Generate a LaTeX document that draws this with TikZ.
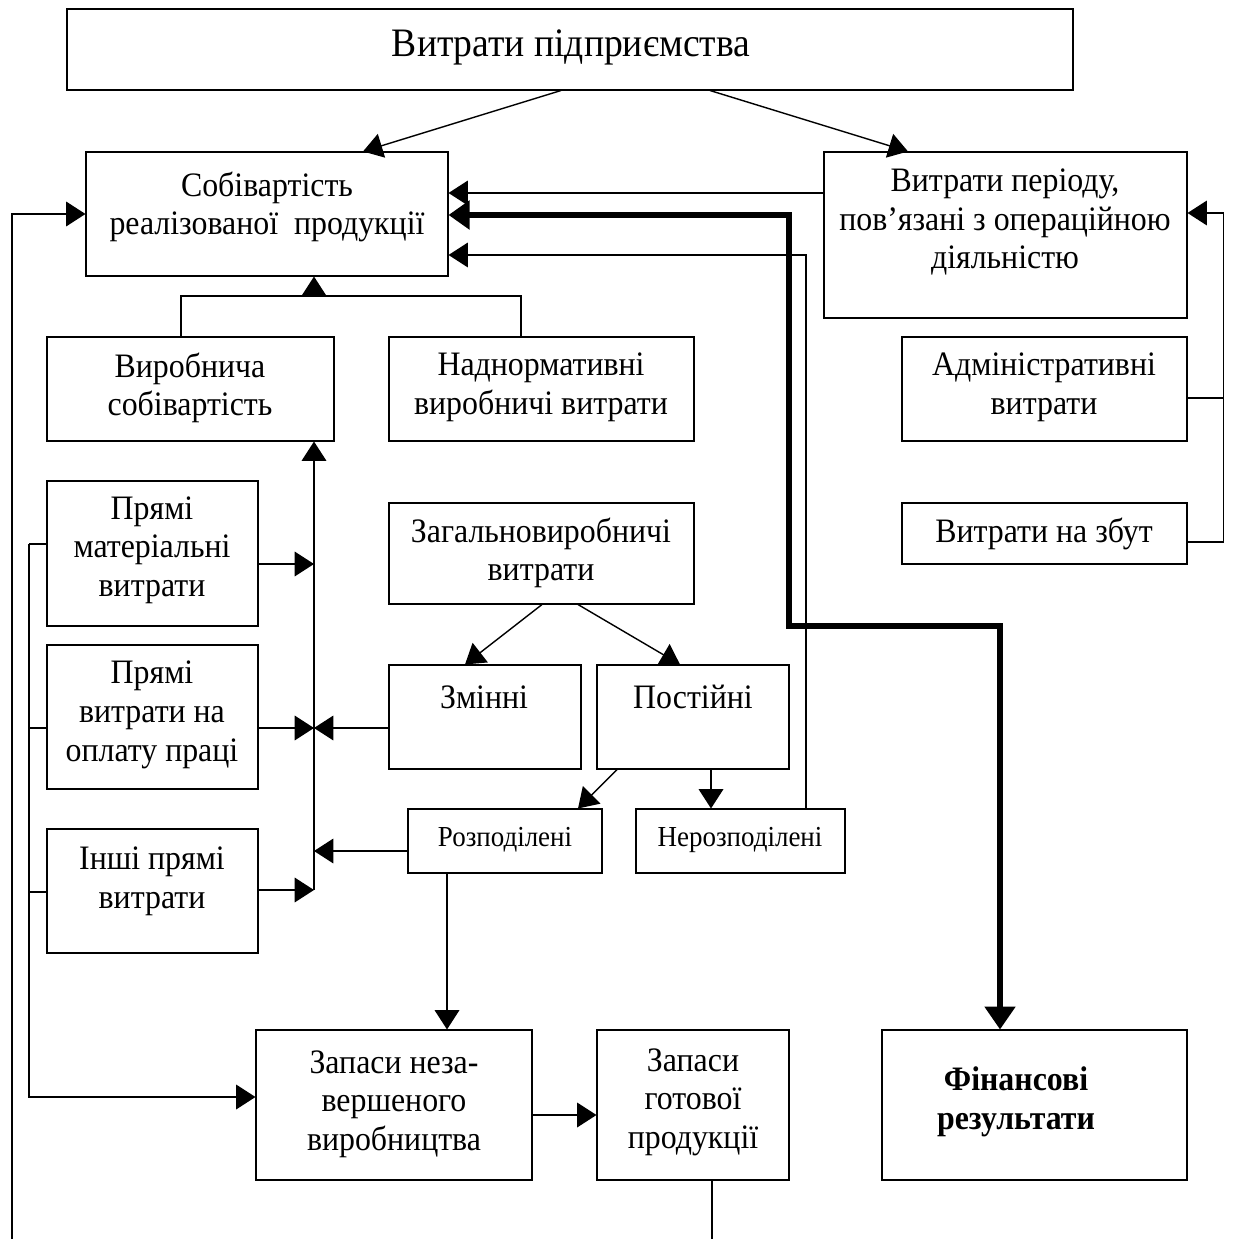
\documentclass[tikz,border=0pt]{standalone}
\usepackage{fontspec}
\setmainfont{Liberation Serif}[FakeStretch=0.93]
\usetikzlibrary{arrows.meta,fit}

\tikzset{
  box/.style={draw, line width=0.6pt, inner sep=0pt},
  txt/.style={align=center, font=\fontsize{19.5}{22}\selectfont},
  small/.style={align=center, font=\fontsize{16.5}{19}\selectfont},
  ln/.style={line width=0.8pt},
  arr/.style={ln, -{Triangle[length=11pt,width=14pt]}},
  fat/.style={line width=3pt, line join=miter,
    {Triangle[length=12pt,width=16pt]}-{Triangle[length=13pt,width=17pt]}},
}

\begin{document}
\begin{tikzpicture}[x=0.02cm,y=-0.02cm]
\useasboundingbox (0,0) rectangle (1233,1239);
%boxes
\node[box, fit={(67,9)(1073,90)}] (top) {};
\node[box, fit={(86,152)(448,276)}] (sob) {};
\node[box, fit={(824,152)(1187,318)}] (vp) {};
\node[box, fit={(47,337)(334,441)}] (vs) {};
\node[box, fit={(389,337)(694,441)}] (nv) {};
\node[box, fit={(902,337)(1187,441)}] (adm) {};
\node[box, fit={(902,503)(1187,564)}] (zb) {};
\node[box, fit={(47,481)(258,626)}] (pm) {};
\node[box, fit={(389,503)(694,604)}] (zv) {};
\node[box, fit={(47,645)(258,789)}] (po) {};
\node[box, fit={(389,665)(581,769)}] (zm) {};
\node[box, fit={(597,665)(789,769)}] (ps) {};
\node[box, fit={(408,809)(602,873)}] (rz) {};
\node[box, fit={(636,809)(845,873)}] (nr) {};
\node[box, fit={(47,829)(258,953)}] (ip) {};
\node[box, fit={(256,1030)(532,1180)}] (zn) {};
\node[box, fit={(597,1030)(789,1180)}] (zg) {};
\node[box, fit={(882,1030)(1187,1180)}] (fr) {};

%texts
\node[txt, font=\fontsize{23}{26}\selectfont] (topT) at (571,47) {Витрати підприємства};
\node[txt] (sobT) at (267,207) {Собівартість\\реалізованої\ \ продукції};
\node[txt] (vpT) at (1005,222) {Витрати періоду,\\пов’язані з операційною\\діяльністю};
\node[txt] (vsT) at (190,388) {Виробнича\\собівартість};
\node[txt] (nvT) at (541,387) {Наднормативні\\виробничі витрати};
\node[txt] (admT) at (1044,387) {Адміністративні\\витрати};
\node[txt] (zbT) at (1044,534) {Витрати на збут};
\node[txt] (pmT) at (152,550) {Прямі\\матеріальні\\витрати};
\node[txt] (zvT) at (541,553) {Загальновиробничі\\витрати};
\node[txt] (poT) at (152,715) {Прямі\\витрати на\\оплату праці};
\node[txt] (zmT) at (484,697) {Змінні};
\node[txt] (psT) at (693,697) {Постійні};
\node[small] (rzT) at (505,840) {Розподілені};
\node[small] (nrT) at (740,840) {Нерозподілені};
\node[txt] (ipT) at (152,881) {Інші прямі\\витрати};
\node[txt] (znT) at (394,1104) {Запаси неза-\\вершеного\\виробництва};
\node[txt] (zgT) at (693,1102) {Запаси\\готової\\продукції};
\node[txt, font=\fontsize{19.5}{22}\selectfont\bfseries] (frT) at (1016,1102) {Фінансові\\результати};

%top level
\draw[arr] (top.south -| 561,0) -- (sob.north -| 363,0);
\draw[arr] (top.south -| 710,0) -- (vp.north -| 908,0);
\draw[arr] (vp.west |- 0,193) -- (sob.east |- 0,193);
\draw[fat] (sob.east |- 0,215) -- (789,215) -- (789,626) -- (1000,626) -- (fr.north -| 1000,0);
\draw[arr] (nr.north -| 806,0) |- (sob.east |- 0,255);

%period costs
\draw[ln] (adm.east |- 0,398) -- (1223,398);
\draw[arr] (zb.east |- 0,542) -- ++(36,0) |- (vp.east |- 0,213);

%production cost
\coordinate (join) at (314,296);
\draw[ln] (vs.north -| 181,0) |- (join) -| (nv.north -| 521,0);
\draw[arr] (join) -- (sob.south -| join);

\coordinate (bus) at (314,890);
\draw[arr] (bus) -- (vs.south -| bus);
\draw[arr] (pm.east |- 0,564) -- (bus |- 0,564);
\draw[arr] (po.east |- 0,728) -- (bus |- 0,728);
\draw[arr] (zm.west |- 0,728) -- (bus |- 0,728);
\draw[arr] (rz.west |- 0,851) -- (bus |- 0,851);
\draw[arr] (ip.east |- bus) -- (bus);

%overheads
\draw[arr] (zv.south -| 542,0) -- (zm.north -| 465,0);
\draw[arr] (zv.south -| 578,0) -- (ps.north -| 680,0);
\draw[arr] (ps.south -| 617,0) -- (rz.north -| 578,0);
\draw[arr] (ps.south -| 711,0) -- (nr.north -| 711,0);
\draw[arr] (rz.south -| 447,0) -- (zn.north -| 447,0);
\draw[arr] (zn.east |- 0,1115) -- (zg.west |- 0,1115);

%left lines
\coordinate (wip) at (29,544);
\draw[ln] (pm.west |- wip) -- (wip);
\draw[ln] (po.west |- 0,728) -- (wip |- 0,728);
\draw[ln] (ip.west |- 0,892) -- (wip |- 0,892);
\draw[arr] (wip) |- (zn.west |- 0,1097);
\coordinate (outA) at (12,1239);
\draw[arr] (outA) |- (sob.west |- 0,214);
\coordinate (outB) at (712,1239);
\draw[ln] (zg.south -| outB) -- (outB);
\end{tikzpicture}
\end{document}
